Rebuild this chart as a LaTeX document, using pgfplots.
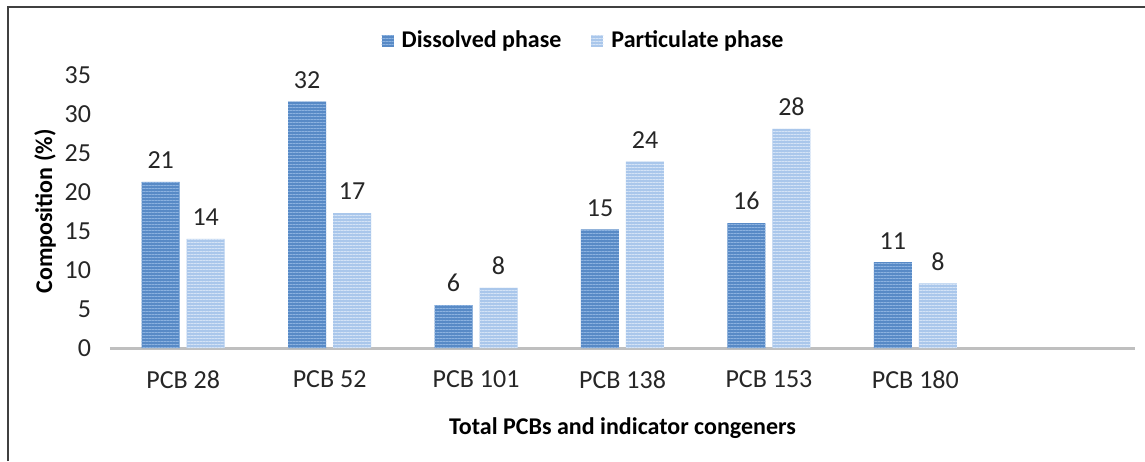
\documentclass[border=0pt]{standalone}
\usepackage{pgfplots}
\pgfplotsset{compat=1.18}
\usetikzlibrary{patterns.meta}
\usepackage{fontspec}
\setmainfont{Carlito}
\definecolor{dis}{RGB}{88,138,198}
\definecolor{disl}{RGB}{140,178,224}
\definecolor{par}{RGB}{170,199,235}
\definecolor{parl}{RGB}{212,227,246}
\definecolor{axg}{RGB}{191,191,191}
\begin{document}
\begin{tikzpicture}
\path[use as bounding box] (-55pt,-56.5pt) rectangle (517.5pt,174pt);
\draw[line width=1pt, color=black!75] (-51pt,-56.5pt) -- (-51pt,170.5pt) -- (517.5pt,170.5pt);
\begin{axis}[
  at={(0,0)}, anchor=south west,
  scale only axis, width=512.5pt, height=136.5pt,
  xmin=-0.5, xmax=6.5, ymin=0, ymax=35,
  ytick={0,5,...,35},
  xtick={0,1,2,3,4,5},
  xticklabels={PCB 28,PCB 52,PCB 101,PCB 138,PCB 153,PCB 180},
  axis x line*=bottom, axis y line*=left,
  y axis line style={draw=none},
  x axis line style={draw=axg, line width=1.5pt, -},
  major tick length=0pt,
  tick label style={font=\fontsize{13}{15}\selectfont, color=black!85},
  /pgf/number format/assume math mode=true,
  xticklabel style={yshift=-8pt},
  yticklabel style={xshift=-6pt},
  xlabel={\textbf{Total PCBs and indicator congeners}},
  ylabel={\textbf{Composition (\%)}},
  label style={font=\fontsize{12}{14}\selectfont},
  xlabel style={at={(axis description cs:0.5,0)}, anchor=center, yshift=-40pt},
  ylabel style={at={(axis description cs:-0.0634,0.5)}, anchor=center},
  ybar, bar width=19pt,
  nodes near coords,
  nodes near coords style={font=\fontsize{13}{15}\selectfont, color=black!85, /pgf/number format/fixed, /pgf/number format/precision=0, /pgf/number format/assume math mode=true},
  every node near coord/.append style={yshift=3pt},
  legend style={at={(axis description cs:0.463,1.125)}, anchor=center, draw=none, legend columns=2,
     font=\fontsize{12}{14}\selectfont\bfseries,
     /tikz/every odd column/.append style={column sep=2pt},
     /tikz/every even column/.append style={column sep=13pt}},
  legend image code/.code={\fill[#1] (0pt,-3pt) rectangle (6pt,3pt);},
  clip=false,
]
\addplot[draw=none, fill=dis, bar shift=-11.25pt, postaction={pattern={Lines[angle=0,distance=1.5pt,line width=0.45pt]}, pattern color=disl}]
  coordinates {(0,21.3) (1,31.6) (2,5.5) (3,15.2) (4,16.0) (5,11.0)};
\addlegendentry{Dissolved phase}
\addplot[draw=none, fill=par, bar shift=11.25pt, postaction={pattern={Lines[angle=0,distance=1.5pt,line width=0.45pt]}, pattern color=parl}]
  coordinates {(0,14.0) (1,17.3) (2,7.7) (3,23.9) (4,28.1) (5,8.3)};
\addlegendentry{Particulate phase}
\end{axis}
\end{tikzpicture}
\end{document}
